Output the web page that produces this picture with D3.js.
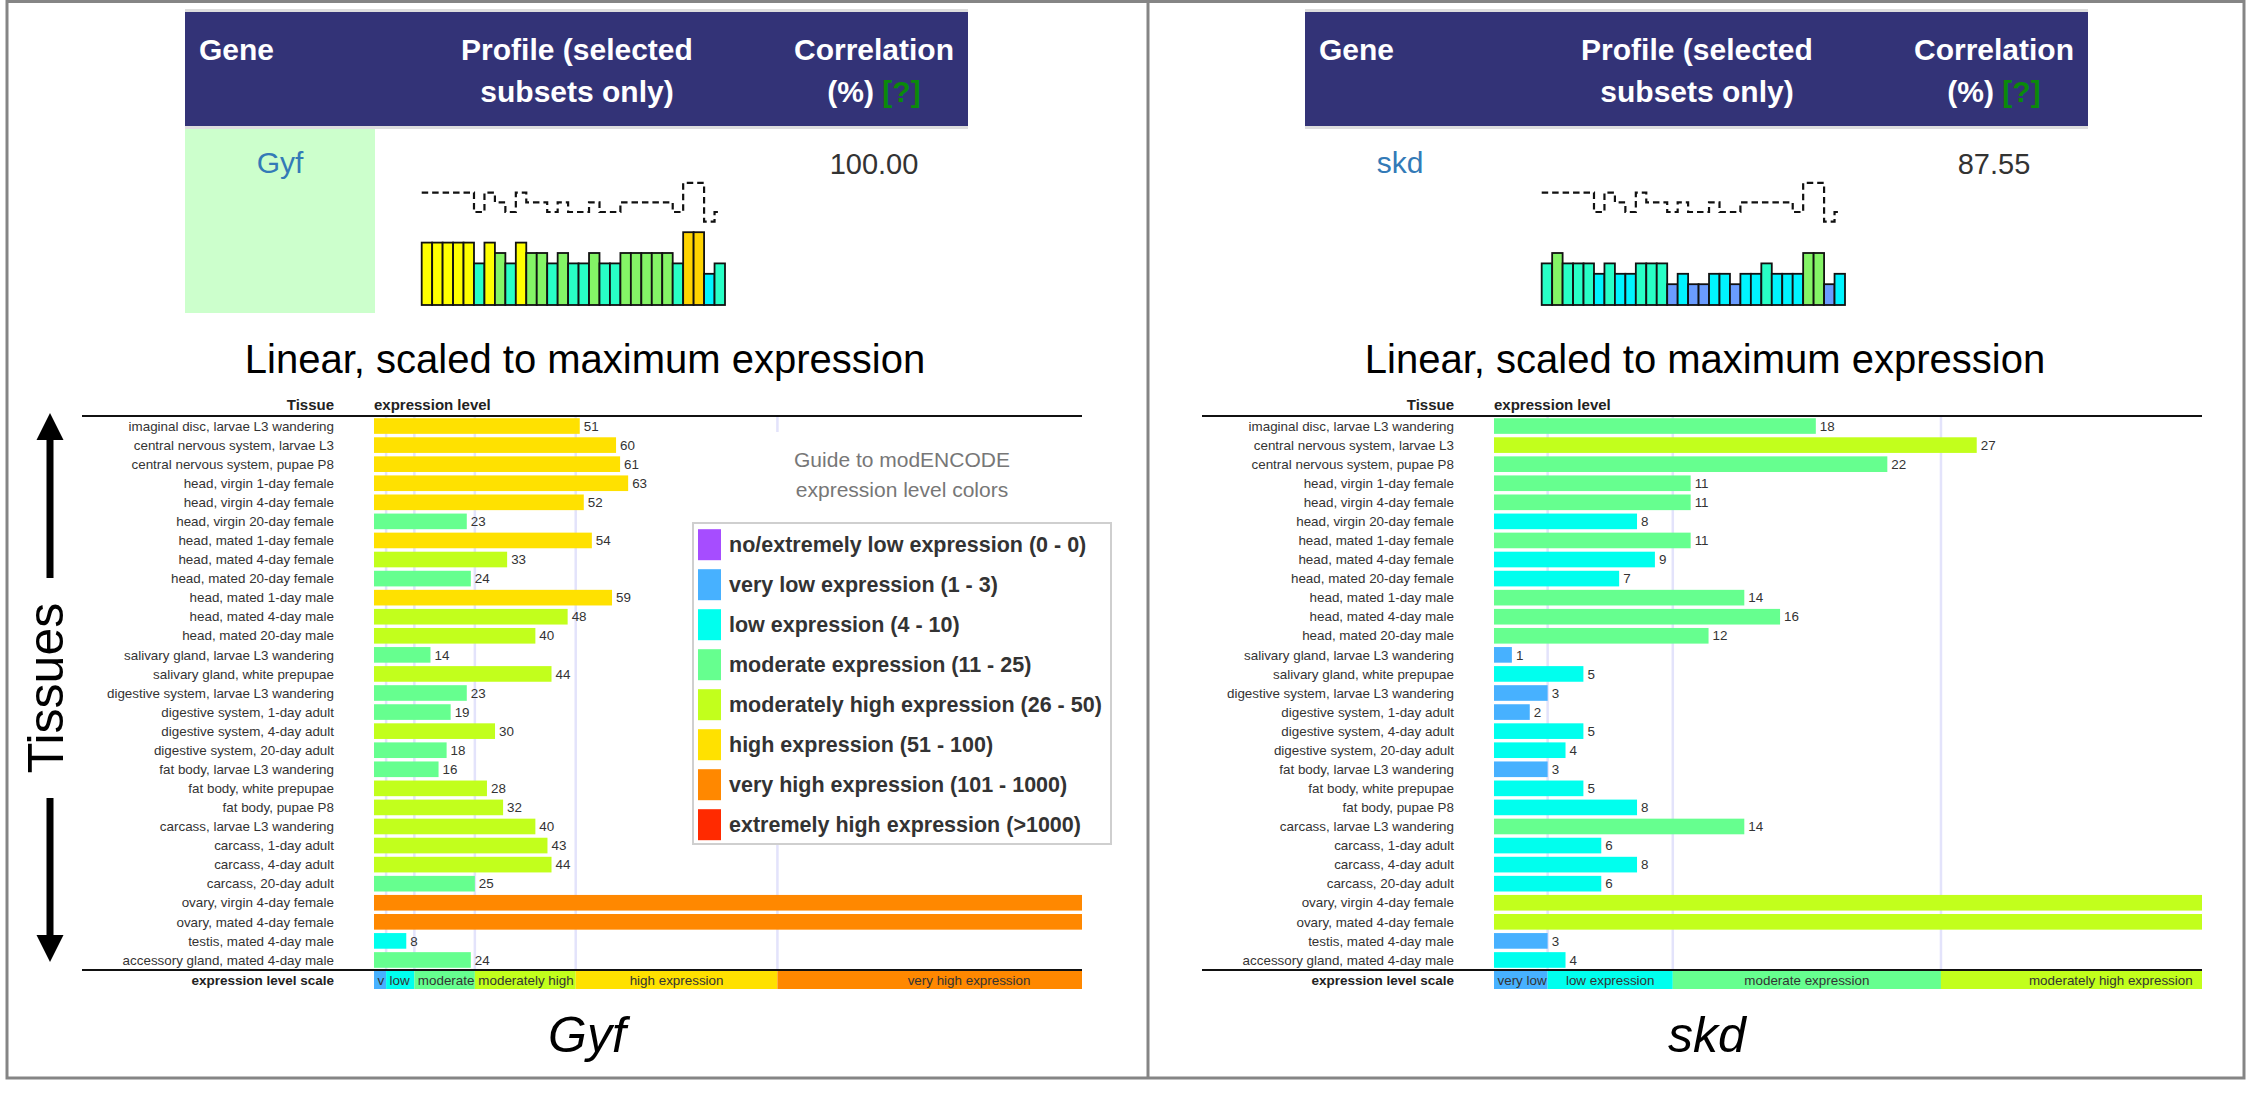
<!DOCTYPE html>
<html><head><meta charset="utf-8">
<script src="https://cdn.jsdelivr.net/npm/d3@7"></script>
<style>
body{margin:0;background:#fff;}
svg{display:block;font-family:"Liberation Sans",Arial,Helvetica,sans-serif;}
</style></head><body>
<svg id="chart" width="2248" height="1095"></svg>
<script>
// ---------------- data ----------------
const tissues = [
  "imaginal disc, larvae L3 wandering","central nervous system, larvae L3","central nervous system, pupae P8",
  "head, virgin 1-day female","head, virgin 4-day female","head, virgin 20-day female",
  "head, mated 1-day female","head, mated 4-day female","head, mated 20-day female",
  "head, mated 1-day male","head, mated 4-day male","head, mated 20-day male",
  "salivary gland, larvae L3 wandering","salivary gland, white prepupae",
  "digestive system, larvae L3 wandering","digestive system, 1-day adult","digestive system, 4-day adult","digestive system, 20-day adult",
  "fat body, larvae L3 wandering","fat body, white prepupae","fat body, pupae P8",
  "carcass, larvae L3 wandering","carcass, 1-day adult","carcass, 4-day adult","carcass, 20-day adult",
  "ovary, virgin 4-day female","ovary, mated 4-day female","testis, mated 4-day male","accessory gland, mated 4-day male"
];
const gyfValues = [51,60,61,63,52,23,54,33,24,59,48,40,14,44,23,19,30,18,16,28,32,40,43,44,25,195,194,8,24];
const skdValues = [18,27,22,11,11,8,11,9,7,14,16,12,1,5,3,2,5,4,3,5,8,14,6,8,6,44,43,3,4];
const genes = ["Gyf","skd"];
const correlations = ["100.00","87.55"];

const levelNames = ["no/extremely low expression","very low expression","low expression","moderate expression",
  "moderately high expression","high expression","very high expression","extremely high expression"];
const levelRanges = ["(0 - 0)","(1 - 3)","(4 - 10)","(11 - 25)","(26 - 50)","(51 - 100)","(101 - 1000)","(>1000)"];
const levelUpper = [0,3,10,25,50,100,1000,Infinity];
const scaleLabels = ["","very low","low expression","moderate expression","moderately high expression","high expression","very high expression","extremely high expression"];
const levelColors = ["#a64dff","#47b1ff","#00ffee","#66ff8f","#c2ff1c","#ffe100","#ff8800","#ff2a00"];
const profileColors = ["#aa66ff","#6a9cff","#00f4ff","#28ffc6","#84f466","#ffff00","#ffd400","#ff5500"];

const headerLine1 = ["Gene","Profile (selected","Correlation"];
const headerLine2 = ["","subsets only)","(%) "];
const titleText = "Linear, scaled to maximum expression";

// ---------------- layout ----------------
const svg = d3.select("#chart");
const levelOf = v => levelUpper.findIndex(u => v <= u);
const panelDx = [0, 1120];
const plotW = 708, visibleFrac = 0.9;

svg.append("rect").attr("x",7).attr("y",1.5).attr("width",2237).attr("height",1076.5)
  .attr("fill","none").attr("stroke","#858585").attr("stroke-width",3);
svg.append("line").attr("x1",1148).attr("x2",1148).attr("y1",1.5).attr("y2",1078)
  .attr("stroke","#858585").attr("stroke-width",3);

genes.forEach((gene, pi) => {
  const values = pi === 0 ? gyfValues : skdValues;
  const rows = tissues.map((t,i) => ({t, v: values[i]}));
  const g = svg.append("g").attr("transform", `translate(${panelDx[pi]},0)`);

  // ---- table header ----
  g.append("rect").attr("x",185).attr("y",9).attr("width",783).attr("height",120).attr("fill","#dddddd");
  g.append("rect").attr("x",185).attr("y",12).attr("width",783).attr("height",114).attr("fill","#333377");
  const hx = [199, 577, 874], ha = ["start","middle","middle"];
  headerLine1.forEach((t,i) => g.append("text").attr("x",hx[i]).attr("y",60).attr("text-anchor",ha[i])
      .attr("fill","#fff").attr("font-weight","bold").attr("font-size",30).text(t));
  headerLine2.forEach((t,i) => {
    if (!t) return;
    const tx = g.append("text").attr("x",hx[i]).attr("y",102).attr("text-anchor",ha[i])
      .attr("fill","#fff").attr("font-weight","bold").attr("font-size",30);
    tx.append("tspan").text(t);
    if (i === 2) tx.append("tspan").attr("fill","#0a8a0a").text("[?]");
  });
  if (pi === 0) g.append("rect").attr("x",185).attr("y",129).attr("width",190).attr("height",184).attr("fill","#ccffcc");
  g.append("text").attr("x",280).attr("y",173).attr("text-anchor","middle").attr("font-size",30)
    .attr("fill","#337ab7").text(gene);
  g.append("text").attr("x",874).attr("y",174).attr("text-anchor","middle").attr("font-size",29)
    .attr("fill","#333").text(correlations[pi]);

  // ---- sparkline profile ----
  const sx = d3.scaleBand().domain(tissues).range([421.7, 725]).paddingInner(0);
  const sh = d3.scaleLinear().domain([0,8]).range([0,83.2]);
  const sBottom = 305;
  g.append("g").selectAll("rect").data(rows).join("rect")
    .attr("x",d=>sx(d.t)).attr("width",sx.bandwidth())
    .attr("y",d=>sBottom - sh(levelOf(d.v)+1)).attr("height",d=>sh(levelOf(d.v)+1))
    .attr("fill",d=>profileColors[levelOf(d.v)]).attr("stroke","#111").attr("stroke-width",1.8);
  const sy = d3.scaleLinear().domain([0,7]).range([241.1, 173.2]);
  const pts = gyfValues.map((v,i)=>[sx(tissues[i]), sy(levelOf(v))]);
  pts.push([sx(tissues[tissues.length-1]) + sx.bandwidth()*0.6, sy(levelOf(gyfValues[gyfValues.length-1]))]);
  g.append("path").attr("d", d3.line().curve(d3.curveStepAfter)(pts))
    .attr("fill","none").attr("stroke","#111").attr("stroke-width",2.2).attr("stroke-dasharray","6.5,3.95");

  // ---- title ----
  g.append("text").attr("x",585).attr("y",373).attr("text-anchor","middle").attr("font-size",40)
    .attr("fill","#000").text(titleText);

  // ---- bar chart ----
  const x0 = 374, plotRight = x0 + plotW;
  const maxV = d3.max(values);
  const x = d3.scaleLinear().domain([0, maxV]).range([x0, x0 + plotW / visibleFrac]);
  const y = d3.scaleBand().domain(tissues).range([416.5, 969.5]).paddingInner(0.18).paddingOuter(0.09);

  const bounds = levelUpper.slice(1).filter(u => u < maxV);
  g.append("g").selectAll("line").data(bounds).join("line")
    .attr("x1",d=>x(d)).attr("x2",d=>x(d)).attr("y1",416).attr("y2",970)
    .attr("stroke","#e3e3fb").attr("stroke-width",2.5);

  g.append("text").attr("x",334).attr("y",410).attr("text-anchor","end").attr("font-weight","bold")
    .attr("font-size",15).attr("fill","#222").text("Tissue");
  g.append("text").attr("x",x0).attr("y",410).attr("font-weight","bold")
    .attr("font-size",15).attr("fill","#222").text("expression level");
  g.append("line").attr("x1",82).attr("x2",plotRight).attr("y1",416).attr("y2",416).attr("stroke","#111").attr("stroke-width",2);

  g.append("g").selectAll("text").data(tissues).join("text")
    .attr("x",334).attr("y",d=>y(d)+y.bandwidth()/2).attr("dy","0.35em").attr("text-anchor","end")
    .attr("font-size",13.4).attr("fill","#333").text(d=>d);

  g.append("g").selectAll("rect").data(rows).join("rect")
    .attr("x",x(0)).attr("y",d=>y(d.t)).attr("height",y.bandwidth())
    .attr("width",d=>Math.min(x(d.v), plotRight) - x(0))
    .attr("fill",d=>levelColors[levelOf(d.v)]);
  g.append("g").selectAll("text").data(rows.filter(d => x(d.v) <= plotRight)).join("text")
    .attr("x",d=>x(d.v)+4).attr("y",d=>y(d.t)+y.bandwidth()/2).attr("dy","0.35em")
    .attr("font-size",13.4).attr("fill","#333").text(d=>d.v);

  // ---- expression level scale ----
  g.append("line").attr("x1",82).attr("x2",plotRight).attr("y1",970).attr("y2",970).attr("stroke","#111").attr("stroke-width",2);
  g.append("text").attr("x",334).attr("y",985).attr("text-anchor","end").attr("font-weight","bold")
    .attr("font-size",13.5).attr("fill","#222").text("expression level scale");
  for (let li = 1; li < levelUpper.length; li++) {
    const lo = levelUpper[li-1];
    if (lo >= maxV) break;
    const hi = Math.min(levelUpper[li], maxV);
    const bx0 = x(lo), bx1 = Math.min(x(hi), plotRight);
    g.append("rect").attr("x",bx0).attr("y",971).attr("width",bx1-bx0).attr("height",18)
      .attr("fill",levelColors[li]);
    const t = g.append("text").attr("y",985).attr("font-size",13.4).attr("fill","#333").text(scaleLabels[li]);
    const tw = t.node().getComputedTextLength();
    if (tw + 8 > x(hi) - bx0) {
      // text does not fit in its band: left-aligned and cut at the band edge
      let s = scaleLabels[li];
      while (s.length > 1 && t.node().getComputedTextLength() > bx1 - bx0 - 3.5) {
        s = s.slice(0, -1); t.text(s.trimEnd());
      }
      t.attr("x", bx0 + 3.5).attr("text-anchor","start");
    } else {
      t.attr("x", (bx0 + x(hi))/2).attr("text-anchor","middle");
    }
  }

  // ---- gene label ----
  g.append("text").attr("x",587).attr("y",1052).attr("text-anchor","middle").attr("font-size",50)
    .attr("font-style","italic").attr("fill","#000").text(gene);

  // ---- legend (left panel) ----
  if (pi === 0) {
    const lg = g.append("g");
    lg.append("rect").attr("x",693).attr("y",432).attr("width",418).attr("height",412).attr("fill","#fff");
    lg.append("text").attr("x",902).attr("y",467).attr("text-anchor","middle").attr("font-size",21)
      .attr("fill","#777").text("Guide to modENCODE");
    lg.append("text").attr("x",902).attr("y",497).attr("text-anchor","middle").attr("font-size",21)
      .attr("fill","#777").text("expression level colors");
    lg.append("rect").attr("x",693).attr("y",523).attr("width",418).attr("height",321)
      .attr("fill","#fff").attr("stroke","#cfcfcf").attr("stroke-width",2);
    const ly = d3.scaleLinear().domain([0,7]).range([544.7, 824.7]);
    levelNames.forEach((n,i) => {
      lg.append("rect").attr("x",698).attr("y",ly(i)-15.5).attr("width",23).attr("height",31).attr("fill",levelColors[i]);
      lg.append("text").attr("x",729).attr("y",ly(i)+7.5).attr("font-size",21.5).attr("font-weight","bold")
        .attr("fill","#333").text(`${n} ${levelRanges[i]}`);
    });

    const ag = g.append("g").attr("fill","#000");
    ag.append("polygon").attr("points","50,413 63.5,440 36.5,440");
    ag.append("rect").attr("x",46.5).attr("y",439).attr("width",7).attr("height",139);
    ag.append("rect").attr("x",46.5).attr("y",798).attr("width",7).attr("height",138);
    ag.append("polygon").attr("points","50,962 63.5,935 36.5,935");
    ag.append("text").attr("transform","translate(63,688) rotate(-90)").attr("text-anchor","middle")
      .attr("font-size",50).text("Tissues");
  }
});
</script>
</body></html>
